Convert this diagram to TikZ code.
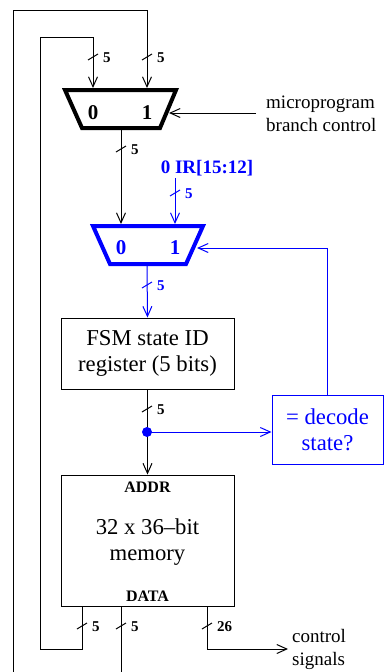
\documentclass[tikz,border=0pt]{standalone}
\usepackage{fontspec}
\setmainfont{Liberation Serif}
\usetikzlibrary{arrows.meta}
\begin{document}
\begin{tikzpicture}[x=1pt,y=-1pt,
  wire/.style={line width=1pt},
  arr/.style={wire,-{Straight Barb[length=10pt,width=9pt]}},
  muxbody/.style={line width=4pt,line join=miter},
  box/.style={draw,line width=1pt,minimum width=173pt,align=center,inner sep=0pt},
  maintxt/.style={font=\fontsize{22.7}{26}\selectfont},
  sidetxt/.style={font=\fontsize{19}{22.5}\selectfont,align=left,anchor=west,inner sep=0pt},
  buslbl/.style={font=\fontsize{15}{15}\selectfont\bfseries,anchor=west,inner sep=0pt},
  muxlbl/.style={font=\fontsize{21}{21}\selectfont\bfseries,inner sep=0pt},
  memlbl/.style={font=\fontsize{16}{16}\selectfont\bfseries,inner sep=0pt}]
\useasboundingbox (0,0) rectangle (384,672);
\newcommand{\bustick}[3]{%
  \draw[wire,#3] ([shift={(-5,3)}]#1) -- ++(10,-6);
  \node[buslbl,text=#3] at ([shift={(10,1)}]#1) {#2};}

% coordinates
\coordinate (m1in0) at (93,88);
\coordinate (m1in1) at (147,88);
\coordinate (m1sel) at (169,113);
\coordinate (m1out) at (121,130);
\coordinate (m2in0) at (121,224);
\coordinate (m2in1) at (175,224);
\coordinate (m2sel) at (197,248);
\coordinate (m2out) at (147,266);
\coordinate (dot) at (147,432);

% mux 1
\draw[muxbody] (65,90) -- (176,90) -- (160,128) -- (82,128) -- cycle;
\node[muxlbl] (mux1a) at (93,113) {0};
\node[muxlbl] (mux1b) at (147,113) {1};
% mux 2
\draw[muxbody,blue] (93,226) -- (203,226) -- (186,264) -- (110,264) -- cycle;
\node[muxlbl,text=blue] (mux2a) at (121,248) {0};
\node[muxlbl,text=blue] (mux2b) at (175,248) {1};

% boxes
\node[box,maintxt,minimum height=71pt] (fsm) at (147.5,353.5) {FSM state ID\\register (5 bits)};
\node[box,minimum height=131pt] (mem) at (147.5,540.5) {};
\node[maintxt,align=center] (memtxt) at (147.5,542.5) {32 x 36--bit\\memory};
\node[memlbl] (addr) at (147.5,487) {ADDR};
\node[memlbl] (data) at (147.5,596) {DATA};
\node[draw=blue,line width=1pt,text=blue,maintxt,align=center,minimum width=111pt,minimum height=69pt,inner sep=0pt] (dec) at (327.5,430) {= decode\\state?};

% texts
\node[sidetxt] (mpb) at (266,114) {microprogram\\branch control};
\node[sidetxt] (ctl) at (292,649.5) {control\\signals};
\node[font=\fontsize{19}{19}\selectfont\bfseries,text=blue,inner sep=0pt] (ir) at (207,168) {0 IR[15:12]};

% memory output points
\coordinate (d0) at (82,606);
\coordinate (d1) at (121,606);
\coordinate (d2) at (207,606);

% wires
\draw[arr] (13,672) -- (13,10) -- (147,10) -- (m1in1);
\draw[arr] (d0) -- (82,649) -- (40,649) -- (40,37) -- (93,37) -- (m1in0);
\draw[wire] (d1) -- (121,672);
\draw[arr] (d2) -- (207,649) -- (288,649);
\draw[arr] (256,113) -- (m1sel);
\draw[arr] (m1out) -- (m2in0);
\draw[arr,blue] (175,178) -- (m2in1);
\draw[arr,blue] (dec.north) |- (m2sel);
\draw[arr,blue] (m2out) -- (fsm.north);
\draw[arr] (fsm.south) -- (mem.north);
\draw[arr,blue] (dot) -- (dot -| dec.west);
\fill[blue] (dot) circle (5);

% bus ticks
\bustick{93,57}{5}{black}
\bustick{147,57}{5}{black}
\bustick{121,149}{5}{black}
\bustick{175,193}{5}{blue}
\bustick{147,285}{5}{blue}
\bustick{147,409}{5}{black}
\bustick{82,626}{5}{black}
\bustick{121,626}{5}{black}
\bustick{207,626}{26}{black}
\end{tikzpicture}
\end{document}
